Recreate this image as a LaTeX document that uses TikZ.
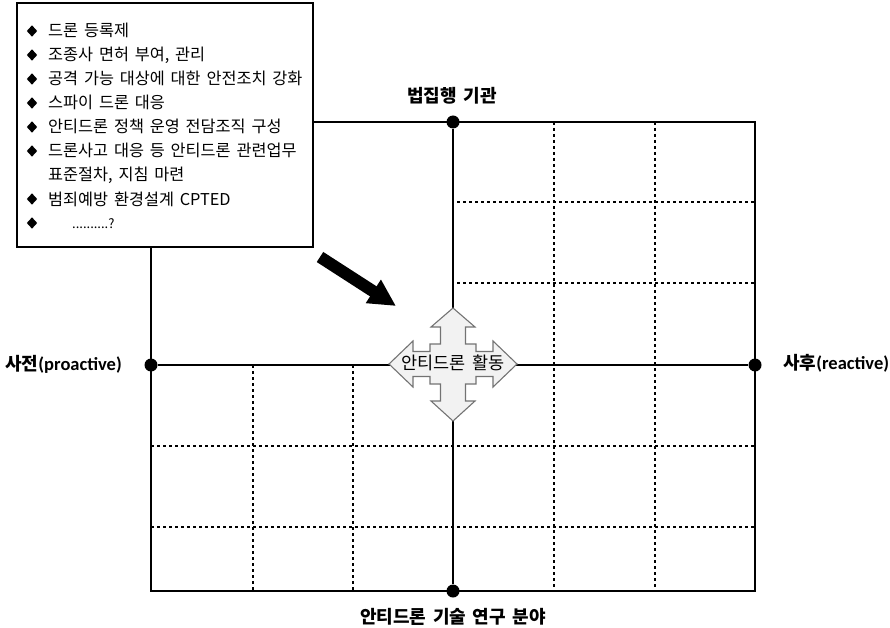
\documentclass[tikz,border=0pt]{standalone}
\usepackage{fontspec}
\setmainfont{Noto Sans CJK KR}[WordSpace=1.6]
\newfontfamily\latinfont{Carlito}
\usetikzlibrary{arrows.meta,shapes.geometric}
\begin{document}
\begin{tikzpicture}[x=1pt,y=-1pt,
  frameline/.style={line width=2pt},
  gridline/.style={line width=2.6pt, dash pattern=on 2.6pt off 3.4pt},
  dotmark/.style={circle, fill=black, inner sep=0pt, minimum size=13pt},
  item/.style={anchor=base west, inner sep=0pt, font=\fontsize{16.3}{19}\selectfont},
  bulletmark/.style={diamond, fill=black, inner sep=0pt, minimum width=10.5pt, minimum height=11.5pt},
  axislabel/.style={inner sep=0pt, font=\fontsize{18}{21}\selectfont\bfseries},
  quad/.style={fill=gray!10, draw=gray!90!black, line width=1.1pt, line join=miter}
]
\useasboundingbox (0,0) rectangle (890,628);

% dotted grid
\draw[gridline] (554,122) -- (554,591);
\draw[gridline] (655,122) -- (655,591);
\draw[gridline] (253,365) -- (253,591);
\draw[gridline] (353,365) -- (353,591);
\draw[gridline] (457,202) -- (755,202);
\draw[gridline] (457,283) -- (755,283);
\draw[gridline] (151,446) -- (755,446);
\draw[gridline] (151,527) -- (755,527);

% frame
\draw[frameline] (151,122) rectangle (755,591);

% axis end points
\node[dotmark] (ptop) at (453,122) {};
\node[dotmark] (pbottom) at (453,591) {};
\node[dotmark] (pleft) at (151,365) {};
\node[dotmark] (pright) at (755,365) {};
\draw[frameline] (ptop) -- (pbottom);
\draw[frameline] (pleft) -- (pright);

% axis labels
\node[axislabel] (ltop) at (452,96) {법집행 기관};
\node[axislabel, anchor=east] (lleft) at (122,364) {사전{\latinfont\fontsize{18.5}{21}\selectfont(proactive)}};
\node[axislabel, anchor=west] (lright) at (783,363) {사후{\latinfont\fontsize{18.5}{21}\selectfont(reactive)}};
\node[axislabel] (lbottom) at (453,617) {안티드론 기술 연구 분야};

% quad arrow
\begin{scope}[shift={(453,364)}]
\draw[quad] (0,-56) -- (22,-37) -- (12.5,-37) -- (12.5,-20) -- (23,-20) -- (23,-12.5)
  -- (40,-12.5) -- (40,-23) -- (64,0) -- (40,23) -- (40,12.5) -- (23,12.5) -- (23,20)
  -- (12.5,20) -- (12.5,37) -- (22,37) -- (0,57) -- (-22,37) -- (-12.5,37) -- (-12.5,20)
  -- (-23,20) -- (-23,12.5) -- (-40,12.5) -- (-40,23) -- (-64,0) -- (-40,-23) -- (-40,-12.5)
  -- (-23,-12.5) -- (-23,-20) -- (-12.5,-20) -- (-12.5,-37) -- (-22,-37) -- cycle;
\end{scope}
\node[inner sep=0pt, font=\fontsize{17.5}{20}\selectfont] (center) at (453,363) {안티드론 활동};

% list box
\node[draw=black, line width=2pt, fill=white, inner sep=0pt, minimum width=296pt, minimum height=244pt] (listbox) at (165,125) {};
\node[bulletmark] (b1) at (32,31) {};
\node[item] (t1) at (48,37) {드론 등록제};
\node[bulletmark] (b2) at (32,55) {};
\node[item] (t2) at (48,61) {조종사 면허 부여, 관리};
\node[bulletmark] (b3) at (32,79) {};
\node[item] (t3) at (48,85) {공격 가능 대상에 대한 안전조치 강화};
\node[bulletmark] (b4) at (32,103) {};
\node[item] (t4) at (48,109) {스파이 드론 대응};
\node[bulletmark] (b5) at (32,127) {};
\node[item] (t5) at (48,133) {안티드론 정책 운영 전담조직 구성};
\node[bulletmark] (b6) at (32,151) {};
\node[item] (t6) at (48,157) {드론사고 대응 등 안티드론 관련업무};
\node[item] (t7) at (48,181) {표준절차, 지침 마련};
\node[bulletmark] (b8) at (32,199) {};
\node[item] (t8) at (48,205) {범죄예방 환경설계 CPTED};
\node[bulletmark] (b9) at (32,223) {};
\node[item, font=\fontsize{13}{15}\selectfont] (t9) at (72,228) {..........?};

% black arrow
\coordinate (atail) at (320,257);
\coordinate (ahead) at (396,306);
\draw[line width=12pt, -{Triangle[length=27pt,width=26pt]}] (atail) -- (ahead);
\end{tikzpicture}
\end{document}
